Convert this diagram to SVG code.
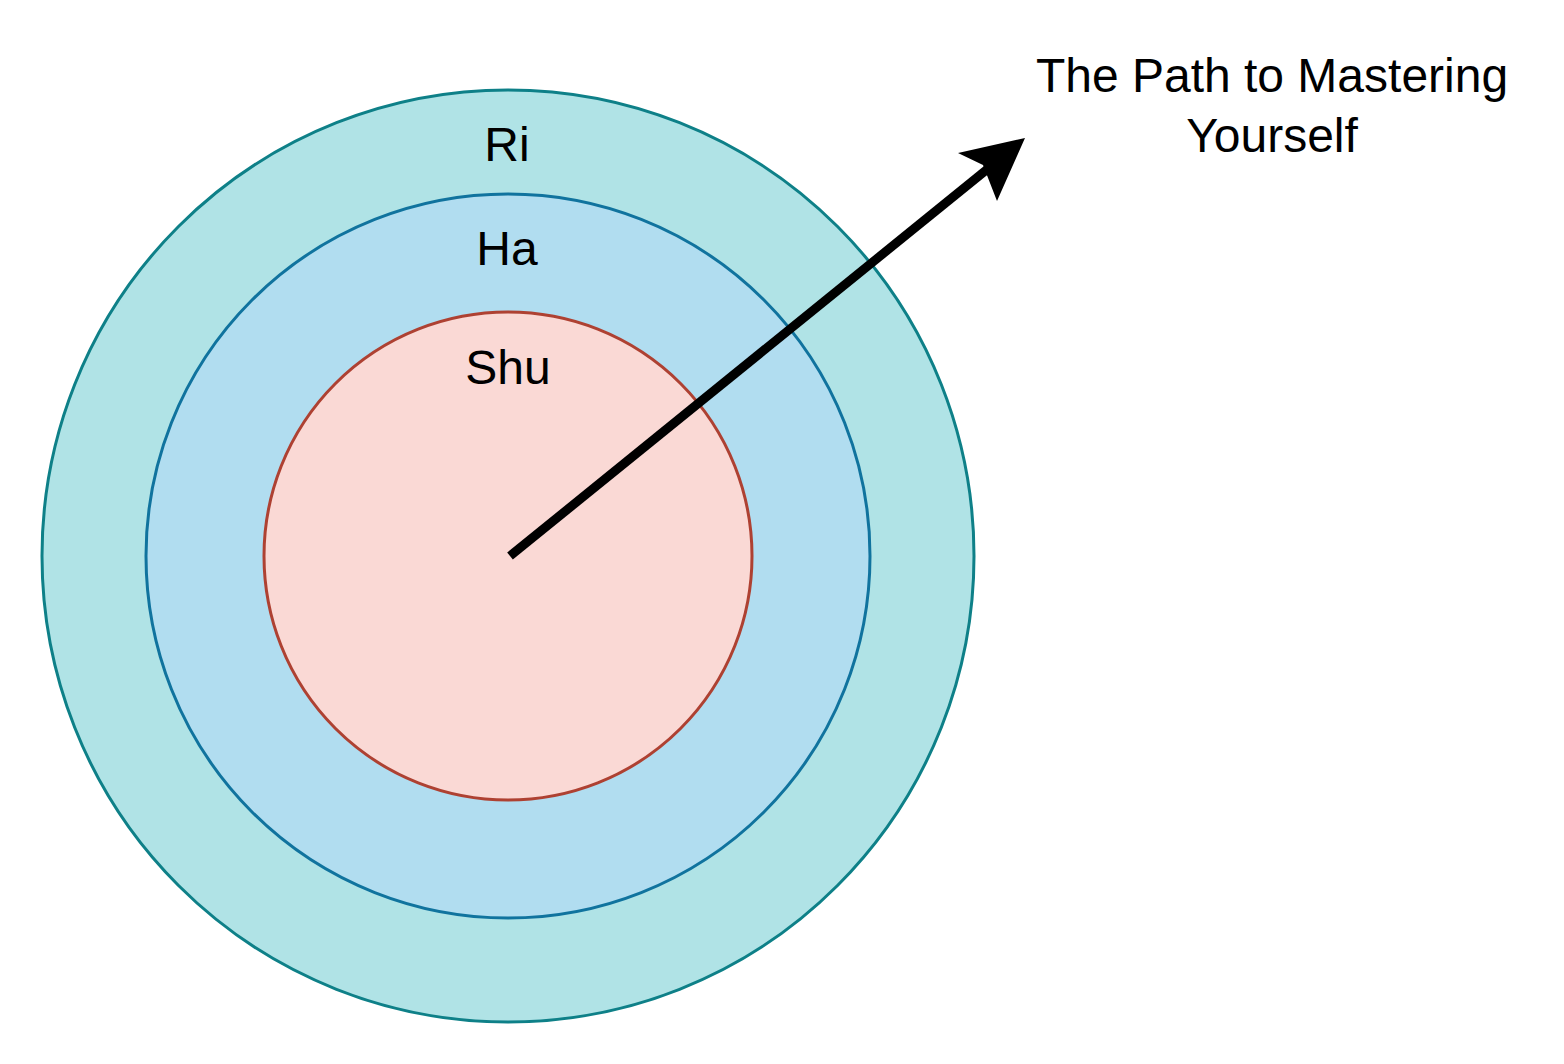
<svg xmlns="http://www.w3.org/2000/svg" width="1564" height="1064" viewBox="0 0 1564 1064">
<style>
text{font-family:"Liberation Sans",Arial,sans-serif;font-size:48px;fill:#000;text-anchor:middle}
.c{stroke-width:3}
</style>
<rect width="1564" height="1064" fill="#fff"/>
<g id="ri"><circle class="c" cx="508" cy="556" r="466" fill="#b0e3e6" stroke="#0e8088"/><text x="507" y="161">Ri</text></g>
<g id="ha"><circle class="c" cx="508" cy="556" r="362" fill="#b1ddf0" stroke="#10739e"/><text x="507" y="265">Ha</text></g>
<g id="shu"><circle class="c" cx="508" cy="556" r="244" fill="#fad9d5" stroke="#ae4132"/><text x="508" y="384">Shu</text></g>
<g id="connectors">
<line x1="510" y1="556" x2="990" y2="167" stroke="#000" stroke-width="9"/>
<polygon points="1025,138 997,201 983,165 958,153" fill="#000"/>
</g>
<g id="label"><text x="1272" y="92">The Path to Mastering</text><text x="1272" y="152">Yourself</text></g>
</svg>
